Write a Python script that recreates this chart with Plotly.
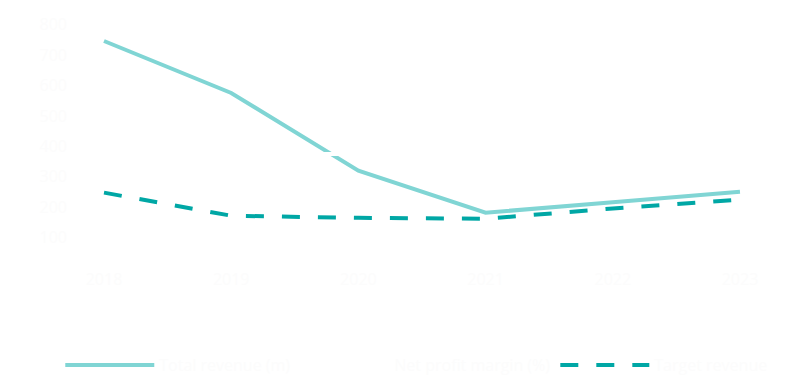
import plotly.graph_objects as go

years = ["2018", "2019", "2020", "2021", "2022", "2023"]
total = [747, 576, 320, 182, 216, 251]
baseline = [375, 375, 375, 375, 375, 375]
target = [248, 172, 165, 162, 196, 225]
y_ticks = [100, 200, 300, 400, 500, 600, 700, 800]

names = ["Total revenue (m)", "Net profit margin (%)", "Target revenue"]
colors = ["#80d5d4", "#ffffff", "#00a7a5"]

fig = go.Figure()
fig.add_trace(go.Scatter(x=years, y=total, name=names[0], mode="lines",
                         line=dict(color=colors[0], width=4)))
fig.add_trace(go.Scatter(x=years, y=baseline, name=names[1], mode="lines",
                         line=dict(color=colors[1], width=4)))
fig.add_trace(go.Scatter(x=years, y=target, name=names[2], mode="lines",
                         line=dict(color=colors[2], width=4, dash="18px,18px")))

txt = "#fcfcfc"
fig.update_layout(
    width=800, height=392,
    margin=dict(l=60, r=38, t=2, b=132, autoexpand=False),
    paper_bgcolor="white", plot_bgcolor="white",
    font=dict(family="Open Sans", size=16, color=txt),
    showlegend=True,
    legend=dict(orientation="h", x=-0.011, xanchor="left", y=-0.31, yanchor="top",
                itemwidth=89, font=dict(color=txt, size=16)),
    xaxis=dict(type="category", range=[-0.283, 5.236], showgrid=False, zeroline=False,
               showline=False, ticks="", tickfont=dict(color=txt)),
    yaxis=dict(range=[0, 849], tickvals=y_ticks, showgrid=False, zeroline=False,
               showline=False, ticks="", tickfont=dict(color=txt)),
)
fig.write_html("out.html")
